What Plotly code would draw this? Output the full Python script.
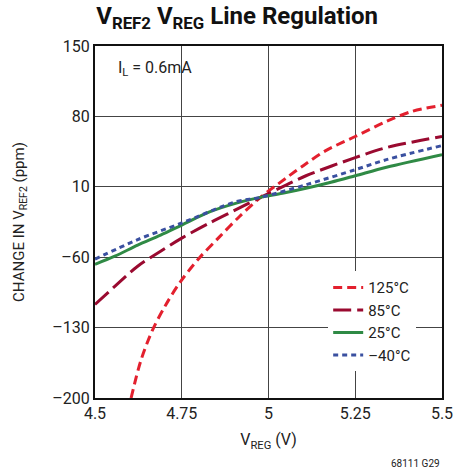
import plotly.graph_objects as go

x_125 = [4.604, 4.632, 4.665, 4.703, 4.745, 4.80, 4.858, 4.915, 4.977, 5.052, 5.108, 5.165, 5.25, 5.34, 5.414, 5.50]
y_125 = [-200, -163, -133, -108, -85, -61, -40, -20, -0.5, 19, 33, 46, 60, 75, 85, 91]

x_85 = [4.50, 4.557, 4.623, 4.689, 4.75, 4.83, 4.905, 4.977, 5.052, 5.108, 5.25, 5.34, 5.50]
y_85 = [-107, -89, -69, -54, -41, -26, -13, -0.5, 12, 21, 39, 49, 60]

x_25 = [4.50, 4.557, 4.623, 4.689, 4.75, 4.83, 4.905, 4.977, 5.04, 5.108, 5.18, 5.25, 5.34, 5.50]
y_25 = [-67, -59, -48, -38, -28, -15, -6.5, -0.5, 3.5, 8.5, 14.5, 21, 29.5, 42]

x_m40 = [4.50, 4.623, 4.75, 4.905, 4.977, 5.108, 5.25, 5.34, 5.50]
y_m40 = [-62, -42.5, -26, -5, -0.5, 12, 27, 37, 51]

x_ticks = [4.5, 4.75, 5, 5.25, 5.5]
x_labels = ["4.5", "4.75", "5", "5.25", "5.5"]
y_ticks = [-200, -130, -60, 10, 80, 150]
y_labels = ["–200", "–130", "–60", "10", "80", "150"]

FONT = "Roboto, Arial, sans-serif"

series = [
    ("125°C", x_125, y_125, "#e3202e", "9px,5px"),
    ("85°C", x_85, y_85, "#9a0a30", "18px,6px"),
    ("25°C", x_25, y_25, "#2f8a45", "solid"),
    ("–40°C", x_m40, y_m40, "#3a50a0", "5px,4px"),
]

fig = go.Figure()
for name, xs, ys, color, dash in series:
    fig.add_trace(go.Scatter(
        x=xs, y=ys, name=name, mode="lines",
        line=dict(color=color, width=3, dash=dash, shape="spline", smoothing=0.9),
    ))

fig.update_layout(
    width=465, height=470,
    margin=dict(l=95, r=19, t=46, b=72),
    paper_bgcolor="white", plot_bgcolor="white",
    font=dict(family=FONT, size=16, color="#222"),
    title=dict(
        text="<b>V<sub>REF2</sub> V<sub>REG</sub> Line Regulation</b>",
        x=0.51, xanchor="center", y=0.985, yanchor="top",
        font=dict(family=FONT, size=24, color="#111"),
    ),
    legend=dict(
        x=0.672, y=0.36, xanchor="left", yanchor="top",
        bgcolor="white", borderwidth=0,
        font=dict(family=FONT, size=15, color="#222"),
        tracegroupgap=0, itemwidth=30,
    ),
    showlegend=True,
)

fig.update_xaxes(
    range=[4.5, 5.5], tickvals=x_ticks, ticktext=x_labels,
    showgrid=True, gridcolor="#444", gridwidth=1,
    showline=True, linecolor="#111", linewidth=2, mirror=True,
    ticks="", zeroline=False,
    title=dict(text="V<sub>REG</sub> (V)", standoff=12, font=dict(size=16)),
)
fig.update_yaxes(
    range=[-200, 150], tickvals=y_ticks, ticktext=y_labels,
    showgrid=True, gridcolor="#444", gridwidth=1,
    showline=True, linecolor="#111", linewidth=2, mirror=True,
    ticks="", zeroline=False,
    title=dict(text="CHANGE IN V<sub>REF2</sub> (ppm)", standoff=24, font=dict(size=15)),
)

fig.add_annotation(
    x=0.06, y=0.935, xref="paper", yref="paper", xanchor="left", yanchor="middle",
    text="I<sub>L</sub> = 0.6mA", showarrow=False,
    font=dict(family=FONT, size=16, color="#222"),
)
fig.add_annotation(
    x=1.0, y=-0.165, xref="paper", yref="paper", xanchor="right", yanchor="top",
    text="68111 G29", showarrow=False,
    font=dict(family=FONT, size=10, color="#222"),
)

# drop the default 8px body margin so the figure sits at the page corner
fig.write_html("out.html", config={"displayModeBar": False},
               post_script="document.body.style.margin='0px';")
